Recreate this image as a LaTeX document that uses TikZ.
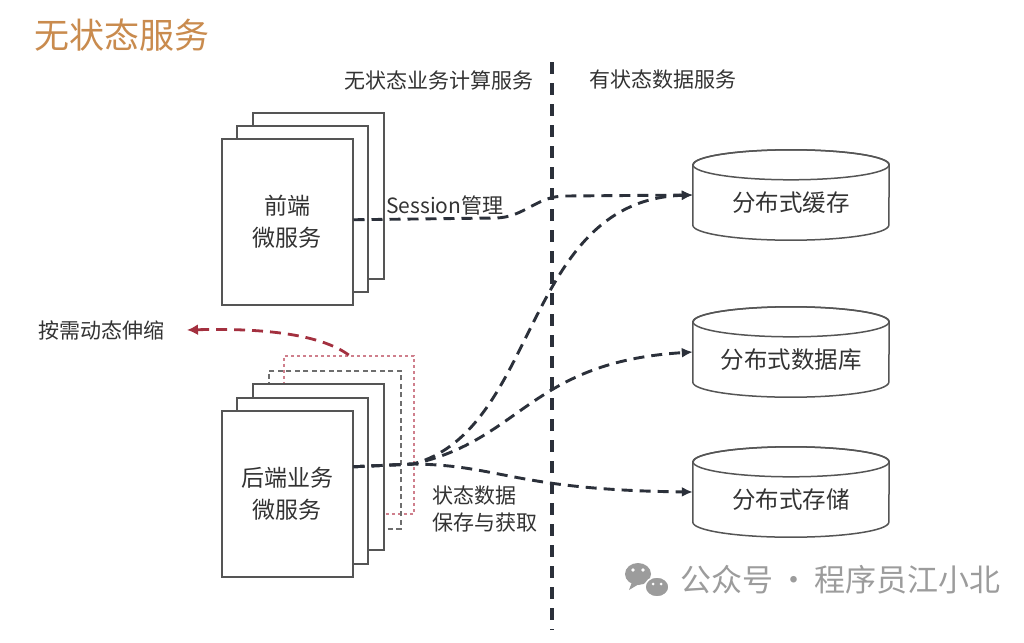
\documentclass[tikz,border=0pt]{standalone}
\usepackage{fontspec}
\setmainfont{Noto Sans CJK SC}
\usetikzlibrary{arrows.meta}
\definecolor{txt}{HTML}{333333}
\definecolor{cardline}{HTML}{555555}
\definecolor{connc}{HTML}{2B303A}
\definecolor{titlec}{HTML}{C98B4E}
\definecolor{redc}{HTML}{A3303F}
\definecolor{pinkc}{HTML}{CF7F8C}
\definecolor{grayc}{HTML}{6E6E6E}
\definecolor{wmc}{HTML}{9C9C9C}
\begin{document}
\begin{tikzpicture}[x=1pt,y=1pt,
  card/.style={draw=cardline, line width=1.5pt, fill=white, minimum width=131pt,
    minimum height=166pt, inner sep=0pt, anchor=north west, text=txt, align=center,
    font=\fontsize{23}{32}\selectfont},
  ghostgray/.style={draw=grayc, line width=1.5pt, dash pattern=on 5pt off 3.5pt,
    minimum width=132pt, minimum height=158pt, inner sep=0pt, anchor=north west},
  ghostred/.style={draw=pinkc, line width=1.5pt, dash pattern=on 3pt off 3pt,
    minimum width=130pt, minimum height=158pt, inner sep=0pt, anchor=north west},
  conn/.style={draw=connc, line width=2.9pt, dash pattern=on 11pt off 7pt,
    -{Latex[length=11pt,width=10pt]}},
  redarrow/.style={draw=redc, line width=2.8pt, dash pattern=on 11pt off 7pt,
    -{Latex[length=11pt,width=11pt]}},
  divider/.style={draw=connc, line width=3.2pt, dash pattern=on 12pt off 9pt},
  cylbox/.style={minimum width=196pt, minimum height=90pt, inner sep=0pt},
  cyl/.style={draw=cardline, line width=1.5pt, fill=white},
  lbl/.style={text=txt, inner sep=0pt, font=\fontsize{21}{27}\selectfont},
  cyltext/.style={text=txt, inner sep=0pt, font=\fontsize{23.5}{27}\selectfont},
]
\useasboundingbox (0,0) rectangle (1024,-642);
\fill[white] (0,0) rectangle (1024,-642);

% title and headers
\node[anchor=west, inner sep=0pt, text=titlec, font=\fontsize{35}{40}\selectfont] (title) at (34,-35) {无状态服务};
\node[lbl] (hleft) at (439,-80) {无状态业务计算服务};
\node[lbl] (hright) at (663,-80) {有状态数据服务};

% divider
\coordinate (dtop) at (552,-62);
\coordinate (dbot) at (552,-630);
\draw[divider] (dtop) -- (dbot);

% front-end stack
\node[card] (f3) at (252,-112) {};
\node[card] (f2) at (236,-125) {};
\node[card] (f1) at (221,-138) {前端\\微服务};

% back-end stack with ghost instances
\node[ghostred] (r1) at (283,-355) {};
\node[ghostgray] (g1) at (268,-370) {};
\node[card] (b3) at (252,-383) {};
\node[card] (b2) at (236,-397) {};
\node[card] (b1) at (221,-410) {后端业务\\微服务};

% cylinders
\foreach \n/\y in {c1/-195, c2/-352, c3/-492} {
  \node[cylbox] (\n) at (791,\y) {};
  \path[cyl] ([yshift=-15pt]\n.north west) -- ([yshift=15pt]\n.south west)
    arc[start angle=180, end angle=360, x radius=98pt, y radius=15pt]
    -- ([yshift=-15pt]\n.north east)
    arc[start angle=0, end angle=180, x radius=98pt, y radius=15pt] -- cycle;
  \draw[cardline, line width=1.5pt] ([yshift=-15pt]\n.north) ellipse [x radius=98pt, y radius=15pt];
}
\node[cyltext] (c1t) at ([yshift=-8pt]c1.center) {分布式缓存};
\node[cyltext] (c2t) at ([yshift=-8pt]c2.center) {分布式数据库};
\node[cyltext] (c3t) at ([yshift=-8pt]c3.center) {分布式存储};

% session connector
\coordinate (s1) at (495,-218);
\coordinate (s2) at (565,-196);
\draw[conn] ([yshift=2pt]f1.east) -- (s1) to[out=0,in=180] (s2) -- (c1.west);
\node[lbl, anchor=west] (sess) at (386,-205) {Session管理};

% back-end fan-out
\coordinate (bo) at ([yshift=27pt]b1.east);
\coordinate (fan) at (413,-464);
\draw[conn] (bo) -- (fan) .. controls (540,-430) and (522,-200) .. (c1.west);
\draw[conn] (bo) -- (fan) .. controls (522,-440) and (530,-362) .. (c2.west);
\draw[conn] (bo) -- (fan) .. controls (500,-465) and (515,-490) .. (c3.west);
\node[lbl, anchor=north west, align=left] (state) at (432,-486) {状态数据\\保存与获取};

% scaling arrow
\node[lbl, anchor=east, inner xsep=22pt] (scale) at (187,-330) {按需动态伸缩};
\draw[redarrow] (r1.north) .. controls (320,-334) and (262,-328) .. (scale.east);

% watermark
\fill[wmc] (638,-574) ellipse [x radius=13pt, y radius=11pt];
\fill[wmc] (632,-582) -- (629,-590) -- (639,-584) -- cycle;
\path[fill=wmc, draw=white, line width=1.5pt] (657,-587) ellipse [x radius=12pt, y radius=10pt];
\fill[white] (633,-570) circle (1.8pt) (643,-570) circle (1.8pt);
\fill[white] (653,-584) circle (1.5pt) (661,-584) circle (1.5pt);
\node[anchor=west, inner sep=0pt, text=wmc, font=\fontsize{31}{36}\selectfont] (wm) at (680,-580) {公众号\hspace{5pt}·\hspace{5pt}程序员江小北};
\end{tikzpicture}
\end{document}
